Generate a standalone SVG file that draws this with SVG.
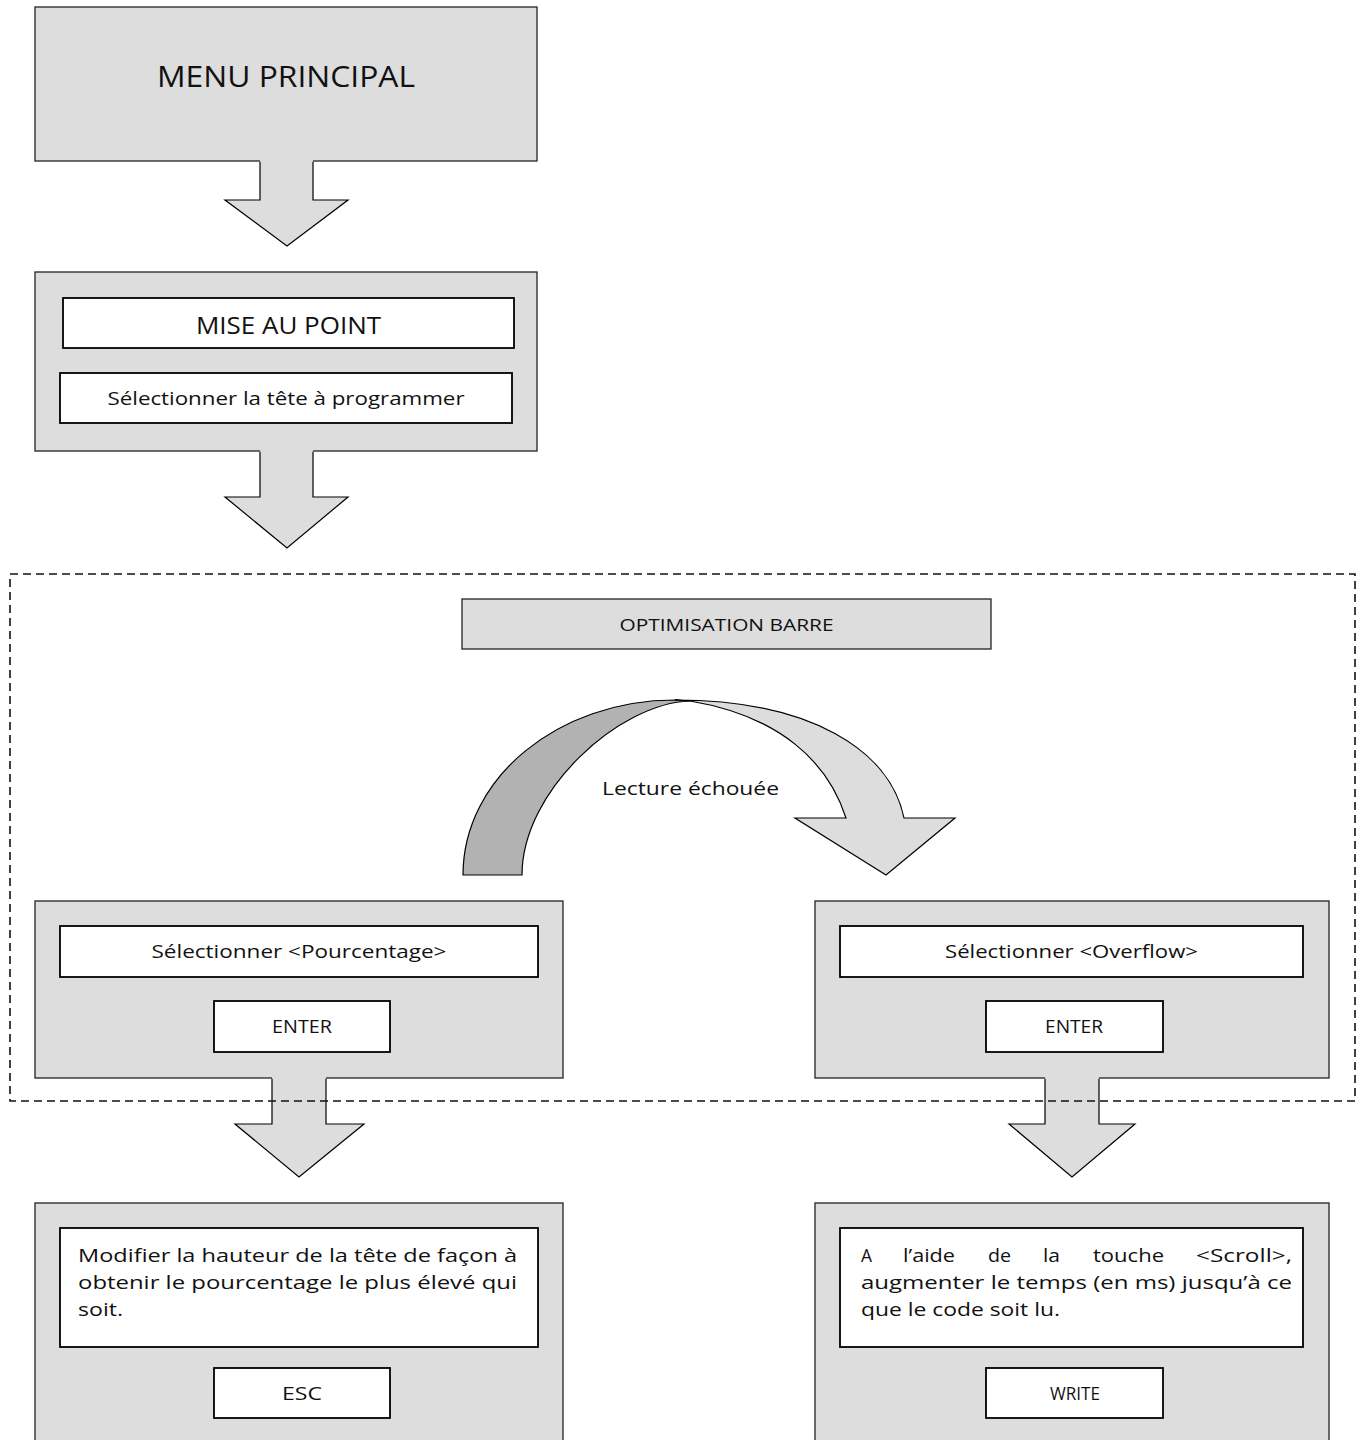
<svg xmlns="http://www.w3.org/2000/svg" width="1359" height="1440" viewBox="0 0 1359 1440">
<style>
.outer{fill:#dddddd;stroke:#222;stroke-width:1.3}
.inner{fill:#ffffff;stroke:#000;stroke-width:1.8}
.t{font-family:"Open Sans","DejaVu Sans",sans-serif;fill:#111}
.c{text-anchor:middle}
.af{fill:#dddddd;stroke:none}
.al{fill:none;stroke:#000;stroke-width:1.2}
.dash{fill:none;stroke:#111;stroke-width:1.6;stroke-dasharray:8 5}
</style>
<rect width="1359" height="1440" fill="#fff"/>

<g id="menu-principal">
<rect class="outer" x="35" y="7" width="502" height="154"/>
<text class="t c" x="286" y="87" font-size="29" textLength="258" lengthAdjust="spacingAndGlyphs">MENU PRINCIPAL</text>
</g>

<g id="mise-au-point">
<rect class="outer" x="35" y="272" width="502" height="179"/>
<rect class="inner" x="63" y="298" width="451" height="50"/>
<text class="t c" x="288.5" y="334" font-size="24" textLength="185" lengthAdjust="spacingAndGlyphs">MISE AU POINT</text>
<rect class="inner" x="60" y="373" width="452" height="50"/>
<text class="t c" x="286" y="405" font-size="19" textLength="357" lengthAdjust="spacingAndGlyphs">Sélectionner la tête à programmer</text>
</g>

<g id="optimisation-barre">
<rect class="outer" x="462" y="599" width="529" height="50"/>
<text class="t c" x="726.5" y="631" font-size="17" textLength="214" lengthAdjust="spacingAndGlyphs">OPTIMISATION BARRE</text>
</g>

<g id="pourcentage">
<rect class="outer" x="35" y="901" width="528" height="177"/>
<rect class="inner" x="60" y="926" width="478" height="51"/>
<text class="t c" x="299" y="958" font-size="19" textLength="295" lengthAdjust="spacingAndGlyphs">Sélectionner &lt;Pourcentage&gt;</text>
<rect class="inner" x="214" y="1001" width="176" height="51"/>
<text class="t c" x="302" y="1033" font-size="18" textLength="60" lengthAdjust="spacingAndGlyphs">ENTER</text>
</g>

<g id="overflow">
<rect class="outer" x="815" y="901" width="514" height="177"/>
<rect class="inner" x="840" y="926" width="463" height="51"/>
<text class="t c" x="1071.5" y="958" font-size="19" textLength="253" lengthAdjust="spacingAndGlyphs">Sélectionner &lt;Overflow&gt;</text>
<rect class="inner" x="986" y="1001" width="177" height="51"/>
<text class="t c" x="1074" y="1033" font-size="18" textLength="58" lengthAdjust="spacingAndGlyphs">ENTER</text>
</g>

<g id="modifier-hauteur">
<rect class="outer" x="35" y="1203" width="528" height="242"/>
<rect class="inner" x="60" y="1228" width="478" height="119"/>
<text class="t" font-size="19">
<tspan x="78" y="1262" textLength="439" lengthAdjust="spacingAndGlyphs">Modifier la hauteur de la tête de façon à</tspan>
<tspan x="78" y="1289" textLength="439" lengthAdjust="spacingAndGlyphs">obtenir le pourcentage le plus élevé qui</tspan>
<tspan x="78" y="1316" textLength="45" lengthAdjust="spacingAndGlyphs">soit.</tspan>
</text>
<rect class="inner" x="214" y="1368" width="176" height="50"/>
<text class="t c" x="302" y="1400" font-size="18" textLength="40" lengthAdjust="spacingAndGlyphs">ESC</text>
</g>

<g id="scroll-temps">
<rect class="outer" x="815" y="1203" width="514" height="242"/>
<rect class="inner" x="840" y="1228" width="463" height="119"/>
<text class="t" font-size="19">
<tspan x="861" y="1262" textLength="11" lengthAdjust="spacingAndGlyphs">A</tspan>
<tspan x="903" y="1262" textLength="52" lengthAdjust="spacingAndGlyphs">l’aide</tspan>
<tspan x="988" y="1262" textLength="23" lengthAdjust="spacingAndGlyphs">de</tspan>
<tspan x="1043" y="1262" textLength="17" lengthAdjust="spacingAndGlyphs">la</tspan>
<tspan x="1093" y="1262" textLength="71" lengthAdjust="spacingAndGlyphs">touche</tspan>
<tspan x="1196" y="1262" textLength="96" lengthAdjust="spacingAndGlyphs">&lt;Scroll&gt;,</tspan>
<tspan x="861" y="1289" textLength="431" lengthAdjust="spacingAndGlyphs">augmenter le temps (en ms) jusqu’à ce</tspan>
<tspan x="861" y="1316" textLength="199" lengthAdjust="spacingAndGlyphs">que le code soit lu.</tspan>
</text>
<rect class="inner" x="986" y="1368" width="177" height="50"/>
<text class="t c" x="1075" y="1400" font-size="18" textLength="50" lengthAdjust="spacingAndGlyphs">WRITE</text>
</g>

<g id="connectors">
<polygon class="af" points="260,160 260,200 225,200 287,246 348,200 313,200 313,160"/>
<path class="al" d="M260,161.7 V200 H225 L287,246 L348,200 H313 V161.7"/>
<polygon class="af" points="260,450 260,497 225,497 287,548 348,497 313,497 313,450"/>
<path class="al" d="M260,451.7 V497 H225 L287,548 L348,497 H313 V451.7"/>
<polygon class="af" points="272,1077 272,1124 235,1124 299,1177 364,1124 326,1124 326,1077"/>
<path class="al" d="M272,1078.7 V1124 H235 L299,1177 L364,1124 H326 V1078.7"/>
<polygon class="af" points="1045,1077 1045,1124 1009,1124 1072,1177 1135,1124 1099,1124 1099,1077"/>
<path class="al" d="M1045,1078.7 V1124 H1009 L1072,1177 L1135,1124 H1099 V1078.7"/>
<path d="M463,875 C463,778 558,700 675,700 L690,701 C620,703 522,790 522,875 Z" fill="#b2b2b2" stroke="#000" stroke-width="1.2" stroke-linejoin="round"/>
<path d="M675,700 C810,700 890,750 904,818 L955,818 L886,875 L795,818 L846,818 C828,762 780,716 690,701 Z" fill="#dddddd" stroke="#000" stroke-width="1.2" stroke-linejoin="miter"/>
<text class="t" x="602" y="795" font-size="19" textLength="177" lengthAdjust="spacingAndGlyphs">Lecture échouée</text>
</g>

<g id="optimisation-group">
<rect class="dash" x="10" y="574" width="1345" height="527"/>
</g>
</svg>
